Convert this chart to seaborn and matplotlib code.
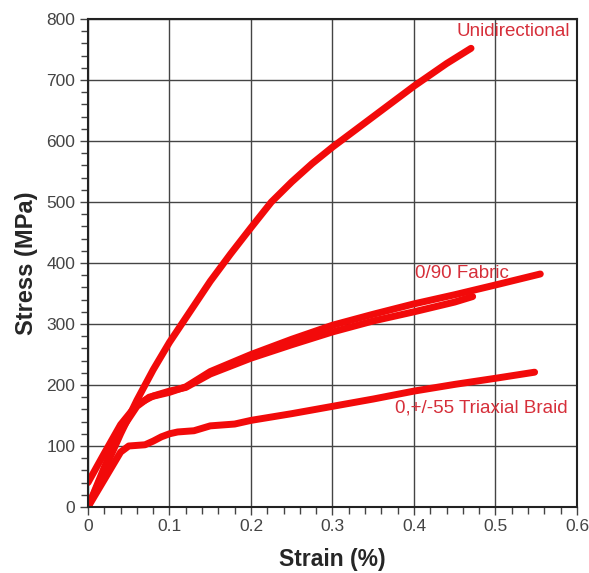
import numpy as np
import pandas as pd
import matplotlib
matplotlib.use('Agg')
import matplotlib.pyplot as plt
import seaborn as sns
from matplotlib.ticker import MultipleLocator, AutoMinorLocator, FuncFormatter

# ── Data ──────────────────────────────────────────────────────────────────────
uni_strain = [0, 0.02, 0.04, 0.06, 0.08, 0.1, 0.125, 0.15, 0.175, 0.2, 0.225, 0.25,
              0.275, 0.3, 0.35, 0.4, 0.44, 0.47]
uni_stress = [0, 60, 120, 175, 225, 270, 320, 370, 415, 458, 500, 533,
              563, 590, 640, 690, 727, 752]

fab1_strain = [0, 0.02, 0.04, 0.06, 0.075, 0.1, 0.12, 0.15, 0.2, 0.25, 0.3, 0.35,
               0.4, 0.45, 0.5, 0.555]
fab1_stress = [0, 65, 125, 165, 180, 188, 197, 222, 250, 275, 298, 316,
               333, 348, 364, 382]

fab2_strain = [0, 0.02, 0.04, 0.06, 0.08, 0.1, 0.12, 0.15, 0.2, 0.25, 0.3, 0.35,
               0.4, 0.45, 0.472]
fab2_stress = [40, 88, 135, 168, 182, 190, 196, 218, 244, 266, 287, 305,
               320, 336, 345]

braid_strain = [0, 0.02, 0.04, 0.05, 0.07, 0.08, 0.09, 0.1, 0.11, 0.13, 0.15, 0.18,
                0.2, 0.25, 0.3, 0.35, 0.4, 0.45, 0.5, 0.548]
braid_stress = [0, 45, 90, 100, 102, 108, 115, 120, 123, 125, 133, 136,
                142, 153, 165, 177, 190, 201, 211, 221]

curve_labels = ["Unidirectional", "0/90 Fabric", "0,+/-55 Triaxial Braid"]

frames = []
for name, xs, ys in [("uni", uni_strain, uni_stress),
                     ("fab1", fab1_strain, fab1_stress),
                     ("fab2", fab2_strain, fab2_stress),
                     ("braid", braid_strain, braid_stress)]:
    frames.append(pd.DataFrame({"strain": xs, "stress": ys, "specimen": name}))
df = pd.concat(frames, ignore_index=True)

sns.set_style("ticks", {"xtick.bottom": True, "ytick.left": True})
plt.rcParams['font.family'] = ['Liberation Sans', 'DejaVu Sans']

fig = plt.figure(figsize=(5.89, 5.73), dpi=100)
ax = fig.add_axes([0.1494, 0.1152, 0.8302, 0.8516])

sns.lineplot(data=df, x="strain", y="stress", units="specimen", estimator=None,
             sort=False, color="#f20a0a", linewidth=5, ax=ax,
             solid_capstyle="round", solid_joinstyle="round")

ax.set_xlim(0, 0.6)
ax.set_ylim(0, 800)
ax.xaxis.set_major_locator(MultipleLocator(0.1))
ax.xaxis.set_minor_locator(AutoMinorLocator(5))
ax.yaxis.set_major_locator(MultipleLocator(100))
ax.yaxis.set_minor_locator(AutoMinorLocator(5))
ax.xaxis.set_major_formatter(FuncFormatter(lambda v, p: "0" if abs(v) < 1e-9 else f"{v:.1f}"))
ax.grid(True, which="major", color="#444444", linewidth=1.0)
ax.set_axisbelow(True)
for s in ax.spines.values():
    s.set_visible(True)
    s.set_color("#222222")
    s.set_linewidth(1.5)
ax.tick_params(axis="both", which="major", direction="out", length=6, width=1,
               color="#444444", labelsize=12.5, labelcolor="#444444", pad=3)
ax.tick_params(axis="x", which="both", bottom=True, top=False)
ax.tick_params(axis="both", which="minor", direction="out", length=5, width=1,
               color="#444444")

ax.set_xlabel("Strain (%)", fontsize=16.5, fontweight="bold", labelpad=10)
ax.set_ylabel("Stress (MPa)", fontsize=17, fontweight="bold", labelpad=6)

txt_color = "#d62f3a"
ax.text(0.452, 779, curve_labels[0], color=txt_color, fontsize=13.5, va="center")
ax.text(0.401, 383, curve_labels[1], color=txt_color, fontsize=13.5, va="center")
ax.text(0.377, 163, curve_labels[2], color=txt_color, fontsize=13.5, va="center")

fig.savefig("out.png", dpi=100, facecolor="white")
